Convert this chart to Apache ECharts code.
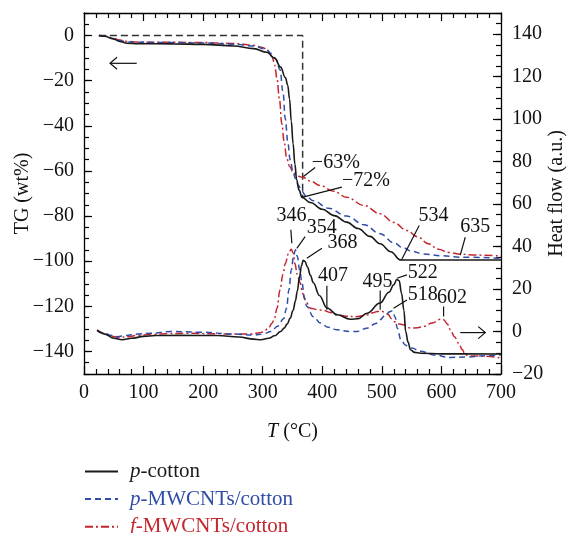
<!DOCTYPE html>
<html><head><meta charset="utf-8">
<script src="https://cdn.jsdelivr.net/npm/echarts@6/dist/echarts.min.js"></script>
<style>html,body{margin:0;padding:0;background:#fff}#c{width:568px;height:533px}</style>
</head><body><div id="c"></div>
<script>
// ---------- data ----------
const seriesNames = ['p-cotton', 'p-MWCNTs/cotton', 'f-MWCNTs/cotton'];
const tgTicks = [0, -20, -40, -60, -80, -100, -120, -140];
const hfTicks = [-20, 0, 20, 40, 60, 80, 100, 120, 140];

const tgBox = [[25,0],[367,0],[367,-71.5]];

const tgPCotton = [[25,0],[35,-0.3],[49,-1.5],[60,-2.6],[72,-3.4],[90,-3.6],[150,-3.7],[200,-3.9],[251,-4.6],[285,-5.8],[307,-7.4],[320,-10],[330,-14],[338,-18.6],[342,-22],[345,-28],[348,-38],[351,-48],[354,-57],[357,-64],[361,-68.5],[366,-71.7],[380,-74],[400,-77],[420,-79.8],[441,-82.7],[460,-85.5],[480,-89],[497,-92.3],[515,-95.8],[531,-99.4],[545,-99.5],[700,-99.5]];
const tgPMwcnt = [[25,0],[35,-0.3],[49,-1.3],[60,-2.2],[72,-2.8],[90,-3],[150,-3.1],[200,-3.3],[250,-3.8],[285,-4.6],[305,-6],[315,-8],[322,-10.5],[329,-15],[334,-25],[338,-37],[342,-47],[346,-55],[351,-60.5],[355,-63.5],[360,-66.5],[366,-69],[372,-71],[385,-73.2],[410,-76.5],[441,-80],[470,-83.8],[497,-87.8],[520,-91.8],[535,-94],[550,-95.6],[570,-96.8],[600,-97.6],[630,-98.2],[700,-98.7]];
const tgFMwcnt = [[25,0],[35,-0.3],[49,-1.2],[60,-2],[72,-2.6],[90,-2.9],[150,-3],[200,-3.1],[250,-3.5],[285,-4.3],[300,-5.3],[310,-7],[316,-9.5],[320,-13],[324,-19],[328,-28],[332,-39],[336,-47],[340,-54],[345,-58],[352,-61],[360,-62.3],[368,-62.9],[380,-64.5],[397,-66.5],[419,-69],[441,-71.7],[470,-75.3],[497,-79],[520,-82.8],[542,-86.4],[560,-89.2],[578,-92.3],[595,-94.7],[612,-96.1],[632,-96.9],[660,-97.3],[700,-97.7]];

const hfPCotton = [[22,0.5],[35,-1.2],[50,-3.2],[64,-3.9],[80,-3.2],[100,-2.3],[120,-1.9],[160,-1.8],[224,-1.9],[260,-2.6],[285,-3.6],[297,-3.9],[310,-3.2],[320,-2],[330,0],[336,1.6],[341,3.5],[346,6.2],[351,10],[355,14.5],[358,19],[362,26],[365,31],[368,33.5],[371,33],[375,30.5],[380,26.5],[385,23],[395,17],[408,11.1],[425,7.9],[447,5.8],[460,6],[475,8.6],[497,13.4],[512,18.5],[520,22],[525,24.5],[529,24],[533,18],[537,10],[540,0],[544,-5],[548,-8.6],[555,-9.8],[565,-10.2],[600,-10.5],[700,-10.6]];
const hfPMwcnt = [[22,0.5],[35,-0.8],[45,-1.8],[56,-2.4],[70,-1.9],[90,-1.2],[112,-0.8],[146,0],[196,-0.3],[252,-1.2],[286,-1.7],[300,-1.2],[314,0],[325,2.5],[335,6],[340,11],[344,19.6],[348,29],[352,36],[355,38.5],[358,35.5],[362,29],[366,22.8],[370,16],[374,11.8],[385,7],[397,4],[410,2],[425,0.8],[447,0],[458,0],[475,1.6],[490,3.8],[497,5.5],[505,7.5],[514,9.4],[518,9.8],[522,7],[526,1.5],[532,-4],[540,-6.5],[550,-7.8],[565,-9.3],[587,-11],[615,-12.2],[645,-12],[671,-11.4],[700,-11]];
const hfFMwcnt = [[22,0.8],[35,-1],[45,-2.2],[59,-2.8],[75,-2.4],[90,-1.8],[112,-1.4],[140,-1],[168,-0.8],[224,-1.1],[280,-1.2],[295,-0.6],[302,0],[310,1.8],[316,4],[320,6.5],[324,11],[329,19.6],[334,27],[338,32],[343,36.5],[348,38.7],[351,37],[354,32],[358,27],[363,22.8],[367,18],[371,15],[380,11],[392,10.3],[402,10],[413,9],[425,7.9],[440,7.2],[458,7],[475,7.8],[485,8.8],[492,9.4],[500,9.5],[505,9],[511,7.9],[516,6],[520,4.7],[530,3.5],[537,3.2],[548,1.6],[560,1.8],[570,2.4],[585,4],[598,5.8],[604,5.5],[610,3.5],[615,0.8],[622,-2.5],[629,-5.5],[635,-8.5],[640,-11],[650,-11.5],[671,-11.6],[700,-12.5]];

// annotations: text, axis, leader from/to and text anchor in data units
const annotations = [
  {text:'\u221263%', axis:'tg', from:[368.4,-62.5], to:[388,-58.5], at:[382.5,-56.2], align:'left'},
  {text:'\u221272%', axis:'tg', from:[365.7,-71.7], to:[432.9,-67.2], at:[432.9,-64.3], align:'left'},
  {text:'534', axis:'tg', from:[533.7,-99], to:[562.7,-84.2], at:[561.6,-79.8], align:'left'},
  {text:'635', axis:'tg', from:[631.6,-97.3], to:[640,-89.4], at:[631.6,-84.7], align:'left'},
  {text:'346', axis:'hf', from:[348.9,41.6], to:[347.2,47.9], at:[348.3,54.4], align:'center'},
  {text:'354', axis:'hf', from:[357.3,39.2], to:[371.2,44.7], at:[399.3,49.1], align:'center'},
  {text:'368', axis:'hf', from:[374.1,34.5], to:[399.3,39.2], at:[433.9,41.6], align:'center'},
  {text:'407', axis:'hf', from:[407.7,10.2], to:[407.7,21.5], at:[418,26.2], align:'center'},
  {text:'495', axis:'hf', from:[497.2,10.2], to:[497.2,19.3], at:[492.5,23.5], align:'center'},
  {text:'522', axis:'hf', from:[525.3,25.1], to:[542.1,26.7], at:[543.6,27.5], align:'left'},
  {text:'518', axis:'hf', from:[519.6,11], to:[542.1,14.9], at:[543.6,17.3], align:'left'},
  {text:'602', axis:'hf', from:[603.6,7.1], to:[603.6,11.8], at:[617.7,15.7], align:'center'}
];
const arrows = [
  {axis:'tg', tail:[88.5,-12.3], head:[43.7,-12.3]},
  {axis:'hf', tail:[631.6,-0.5], head:[673.6,-0.5]}
];

// ---------- styling ----------
const FONT = '"Liberation Serif","DejaVu Serif",serif';
const BLACK = '#1a1a1a', BLUE = '#2f4da6', RED = '#c4262e';
const fmt = v => String(v).replace('-', '\u2212');
const lineCol = {color:'#000', width:1.3};

function baseAxis(extra) {
  return Object.assign({
    type:'value',
    nameMoveOverlap:false,
    axisLine:{show:true, onZero:false, lineStyle:lineCol},
    splitLine:{show:false},
  }, extra);
}

const chart = echarts.init(document.getElementById('c'), null, {renderer:'canvas'});

const xCommon = {
  min:0, max:700, interval:100,
  axisTick:{show:true, inside:true, length:8, lineStyle:{color:'#000', width:1.2}},
  minorTick:{show:true, splitNumber:5, length:5, lineStyle:{color:'#000', width:1.2}}
};

const option = {
  animation:false,
  backgroundColor:'#fff',
  grid:{left:84, right:67, top:13, bottom:159, containLabel:false, outerBoundsMode:'none'},
  legend:{
    orient:'vertical', left:84, top:461, height:90, padding:0,
    itemWidth:33, itemHeight:14, itemGap:6.6,
    itemStyle:{opacity:0},
    data:[
      {name:seriesNames[0], textStyle:{color:BLACK}},
      {name:seriesNames[1], textStyle:{color:BLUE}},
      {name:seriesNames[2], textStyle:{color:RED}}
    ],
    formatter: n => n.replace(/^(.)-/, '{i|$1}-'),
    textStyle:{fontFamily:FONT, fontSize:21, lineHeight:20, padding:[0,0,0,7],
      rich:{i:{fontStyle:'italic', fontFamily:FONT, fontSize:21, lineHeight:20}}}
  },
  xAxis:[
    baseAxis(Object.assign({}, xCommon, {
      position:'bottom',
      axisLabel:{color:'#111', fontFamily:FONT, fontSize:20, margin:9},
      name:'{i|T} (°C)', nameLocation:'middle', nameGap:48,
      nameTextStyle:{color:'#111', fontFamily:FONT, fontSize:20,
        rich:{i:{fontStyle:'italic', fontFamily:FONT, fontSize:20, color:'#111'}}}
    })),
    baseAxis(Object.assign({}, xCommon, {position:'top', axisLabel:{show:false}}))
  ],
  yAxis:[
    baseAxis({
      position:'left', min:-150, max:10, interval:5,
      axisTick:{show:true, inside:true, length:5, lineStyle:{color:'#000', width:1.2}},
      axisLabel:{customValues:tgTicks, color:'#111', fontFamily:FONT, fontSize:20, margin:10,
        formatter: v => (v % 20 === 0 && v <= 0) ? fmt(v) : ''},
      name:'TG (wt%)', nameLocation:'middle', nameGap:51, nameRotate:90,
      nameTextStyle:{color:'#111', fontFamily:FONT, fontSize:20}
    }),
    baseAxis({
      position:'right', min:-20, max:150, interval:5,
      axisTick:{show:true, inside:true, length:5, lineStyle:{color:'#000', width:1.2}},
      axisLabel:{customValues:hfTicks, color:'#111', fontFamily:FONT, fontSize:20, margin:11,
        formatter: v => (v % 20 === 0 && v <= 140) ? fmt(v) : ''},
      name:'Heat flow (a.u.)', nameLocation:'middle', nameGap:46, nameRotate:90,
      nameTextStyle:{color:'#111', fontFamily:FONT, fontSize:20}
    }),
    baseAxis({
      position:'left', min:-150, max:10,
      axisLine:{show:false, onZero:false},
      axisTick:{show:true, inside:true, length:8, customValues:tgTicks, lineStyle:{color:'#000', width:1.2}},
      axisLabel:{show:false}
    }),
    baseAxis({
      position:'right', min:-20, max:150,
      axisLine:{show:false, onZero:false},
      axisTick:{show:true, inside:true, length:8, customValues:hfTicks, lineStyle:{color:'#000', width:1.2}},
      axisLabel:{show:false}
    })
  ],
  series:[]
};

const styles = [
  {color:BLACK, width:1.6, type:'solid'},
  {color:BLUE, width:1.5, type:[6,4]},
  {color:RED, width:1.5, type:[8,3,2,3]}
];
const tgData = [tgPCotton, tgPMwcnt, tgFMwcnt];
const hfData = [hfPCotton, hfPMwcnt, hfFMwcnt];

tgData.forEach((d, i) => option.series.push({
  name:seriesNames[i], type:'line', xAxisIndex:0, yAxisIndex:0, data:d,
  symbol:'none', showSymbol:false, smooth:0.4, smoothMonotone:'x',
  lineStyle:styles[i], itemStyle:{color:styles[i].color}, z:5 - i
}));
hfData.forEach((d, i) => option.series.push({
  name:seriesNames[i], type:'line', xAxisIndex:0, yAxisIndex:1, data:d,
  symbol:'none', showSymbol:false, smooth:0.4, smoothMonotone:'x',
  lineStyle:styles[i], itemStyle:{color:styles[i].color}, z:5 - i
}));
option.series.push({
  name:'box', type:'line', xAxisIndex:0, yAxisIndex:0, data:tgBox,
  symbol:'none', showSymbol:false, lineStyle:{color:'#333', width:1.5, type:[7,4]}, z:1
});

chart.setOption(option);

// ---------- annotations anchored to data coordinates ----------
const px = (axis, p) => chart.convertToPixel({seriesIndex: axis === 'tg' ? 0 : 3}, p);
const g = [];
annotations.forEach(a => {
  const p1 = px(a.axis, a.from), p2 = px(a.axis, a.to), pt = px(a.axis, a.at);
  g.push({type:'line', shape:{x1:p1[0], y1:p1[1], x2:p2[0], y2:p2[1]},
    style:{stroke:'#111', lineWidth:1.2}, z:10});
  g.push({type:'text', x:pt[0], y:pt[1], z:10,
    style:{text:a.text, fill:'#111', font:'20px ' + FONT, align:a.align, verticalAlign:'middle'}});
});
arrows.forEach(a => {
  const t = px(a.axis, a.tail), h = px(a.axis, a.head);
  const dir = Math.sign(t[0] - h[0]);
  g.push({type:'line', shape:{x1:t[0], y1:t[1], x2:h[0], y2:h[1]}, style:{stroke:'#111', lineWidth:1.2}, z:10});
  g.push({type:'polyline', shape:{points:[[h[0] + dir*7, h[1] - 6], [h[0], h[1]], [h[0] + dir*7, h[1] + 6]]},
    style:{stroke:'#111', lineWidth:1.2, fill:null}, z:10});
});
chart.setOption({graphic:g});
</script></body></html>
